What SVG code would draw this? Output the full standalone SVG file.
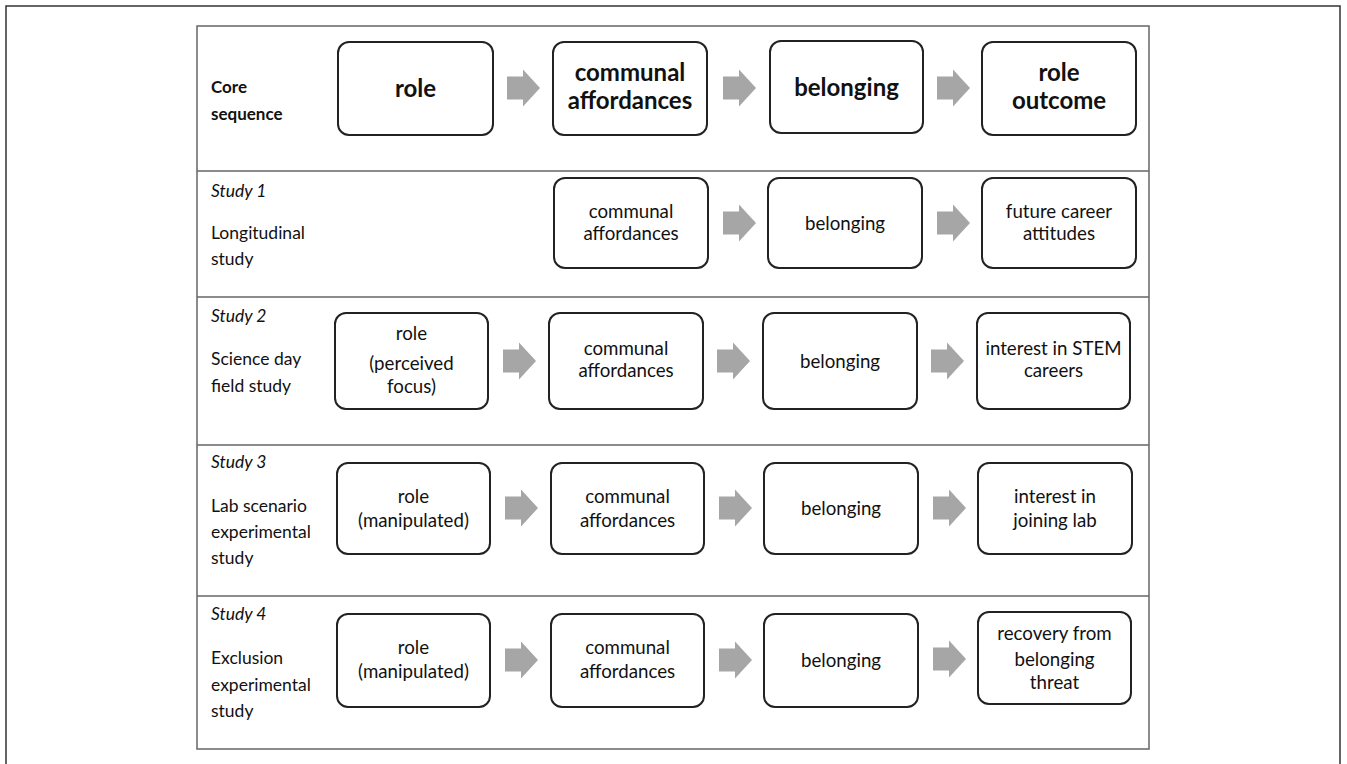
<svg xmlns="http://www.w3.org/2000/svg" xmlns:xlink="http://www.w3.org/1999/xlink" width="1347" height="764" viewBox="0 0 1347 764">
<style>
.frame{fill:none;stroke:#333;stroke-width:1.5}
.row{fill:none;stroke:#666;stroke-width:1.5}
.box{fill:#fff;stroke:#222;stroke-width:2}
.arr{fill:#a6a6a6}
text{font-family:Lato,"Liberation Sans",sans-serif;fill:#111}
.lbl{font-size:17.5px}
.lblb{font-size:17px;font-weight:bold}
.it{font-style:italic}
.nb{font-size:24px;font-weight:bold;text-anchor:middle}
.n{font-size:18.7px;text-anchor:middle}
</style>
<defs>
<path id="arrow" class="arr" d="M0,-11.5 H16 V-18.5 L33,0 L16,18.5 V11.5 H0 Z"/>
</defs>
<rect width="1347" height="764" fill="#fff"/>
<path class="frame" d="M6,770 V6 H1340 V770"/>
<g id="table">
<rect class="row" x="197" y="26" width="952" height="723"/>
<line class="row" x1="197" y1="171" x2="1149" y2="171"/>
<line class="row" x1="197" y1="297" x2="1149" y2="297"/>
<line class="row" x1="197" y1="445" x2="1149" y2="445"/>
<line class="row" x1="197" y1="596" x2="1149" y2="596"/>
</g>
<g id="labels">
<text class="lblb" x="211" y="93">Core</text>
<text class="lblb" x="211" y="120">sequence</text>
<text class="lbl it" x="211" y="197">Study 1</text>
<text class="lbl" x="211" y="239">Longitudinal</text>
<text class="lbl" x="211" y="265">study</text>
<text class="lbl it" x="211" y="322">Study 2</text>
<text class="lbl" x="211" y="365">Science day</text>
<text class="lbl" x="211" y="392">field study</text>
<text class="lbl it" x="211" y="468">Study 3</text>
<text class="lbl" x="211" y="512">Lab scenario</text>
<text class="lbl" x="211" y="538">experimental</text>
<text class="lbl" x="211" y="564">study</text>
<text class="lbl it" x="211" y="620">Study 4</text>
<text class="lbl" x="211" y="664">Exclusion</text>
<text class="lbl" x="211" y="691">experimental</text>
<text class="lbl" x="211" y="717">study</text>
</g>
<g id="connectors">
<use xlink:href="#arrow" x="507" y="88"/>
<use xlink:href="#arrow" x="723" y="88"/>
<use xlink:href="#arrow" x="937" y="88"/>
<use xlink:href="#arrow" x="723" y="223"/>
<use xlink:href="#arrow" x="937" y="223"/>
<use xlink:href="#arrow" x="503" y="361"/>
<use xlink:href="#arrow" x="717" y="361"/>
<use xlink:href="#arrow" x="931" y="361"/>
<use xlink:href="#arrow" x="505" y="508"/>
<use xlink:href="#arrow" x="719" y="508"/>
<use xlink:href="#arrow" x="933" y="508"/>
<use xlink:href="#arrow" x="505" y="660"/>
<use xlink:href="#arrow" x="719" y="660"/>
<use xlink:href="#arrow" x="933" y="659"/>
</g>
<g id="core-role"><rect class="box" x="338" y="42" width="155" height="93" rx="11"/><text class="nb" x="415.5" y="97">role</text></g>
<g id="core-communal"><rect class="box" x="553" y="42" width="154" height="93" rx="11"/><text class="nb" x="630" y="81">communal</text><text class="nb" x="630" y="109">affordances</text></g>
<g id="core-belonging"><rect class="box" x="770" y="41" width="153" height="92" rx="11"/><text class="nb" x="846.5" y="96">belonging</text></g>
<g id="core-outcome"><rect class="box" x="982" y="42" width="154" height="93" rx="11"/><text class="nb" x="1059" y="81">role</text><text class="nb" x="1059" y="109">outcome</text></g>

<g id="s1-communal"><rect class="box" x="554" y="178" width="154" height="90" rx="11"/><text class="n" x="631" y="218">communal</text><text class="n" x="631" y="240">affordances</text></g>
<g id="s1-belonging"><rect class="box" x="768" y="178" width="154" height="90" rx="11"/><text class="n" x="845" y="230">belonging</text></g>
<g id="s1-outcome"><rect class="box" x="982" y="178" width="154" height="90" rx="11"/><text class="n" x="1059" y="218">future career</text><text class="n" x="1059" y="240">attitudes</text></g>

<g id="s2-role"><rect class="box" x="335" y="313" width="153" height="96" rx="11"/><text class="n" x="411.5" y="340">role</text><text class="n" x="411.5" y="370">(perceived</text><text class="n" x="411.5" y="393">focus)</text></g>
<g id="s2-communal"><rect class="box" x="549" y="313" width="154" height="96" rx="11"/><text class="n" x="626" y="355">communal</text><text class="n" x="626" y="377">affordances</text></g>
<g id="s2-belonging"><rect class="box" x="763" y="313" width="154" height="96" rx="11"/><text class="n" x="840" y="368">belonging</text></g>
<g id="s2-outcome"><rect class="box" x="977" y="313" width="153" height="96" rx="11"/><text class="n" x="1053.5" y="355">interest in STEM</text><text class="n" x="1053.5" y="377">careers</text></g>

<g id="s3-role"><rect class="box" x="337" y="463" width="153" height="91" rx="11"/><text class="n" x="413.5" y="503">role</text><text class="n" x="413.5" y="527">(manipulated)</text></g>
<g id="s3-communal"><rect class="box" x="551" y="463" width="153" height="91" rx="11"/><text class="n" x="627.5" y="503">communal</text><text class="n" x="627.5" y="527">affordances</text></g>
<g id="s3-belonging"><rect class="box" x="764" y="463" width="154" height="91" rx="11"/><text class="n" x="841" y="515">belonging</text></g>
<g id="s3-outcome"><rect class="box" x="978" y="463" width="154" height="91" rx="11"/><text class="n" x="1055" y="503">interest in</text><text class="n" x="1055" y="527">joining lab</text></g>

<g id="s4-role"><rect class="box" x="337" y="614" width="153" height="93" rx="11"/><text class="n" x="413.5" y="654">role</text><text class="n" x="413.5" y="678">(manipulated)</text></g>
<g id="s4-communal"><rect class="box" x="551" y="614" width="153" height="93" rx="11"/><text class="n" x="627.5" y="654">communal</text><text class="n" x="627.5" y="678">affordances</text></g>
<g id="s4-belonging"><rect class="box" x="764" y="614" width="154" height="93" rx="11"/><text class="n" x="841" y="667">belonging</text></g>
<g id="s4-outcome"><rect class="box" x="978" y="612" width="153" height="92" rx="11"/><text class="n" x="1054.5" y="640">recovery from</text><text class="n" x="1054.5" y="666">belonging</text><text class="n" x="1054.5" y="689">threat</text></g>
</svg>
